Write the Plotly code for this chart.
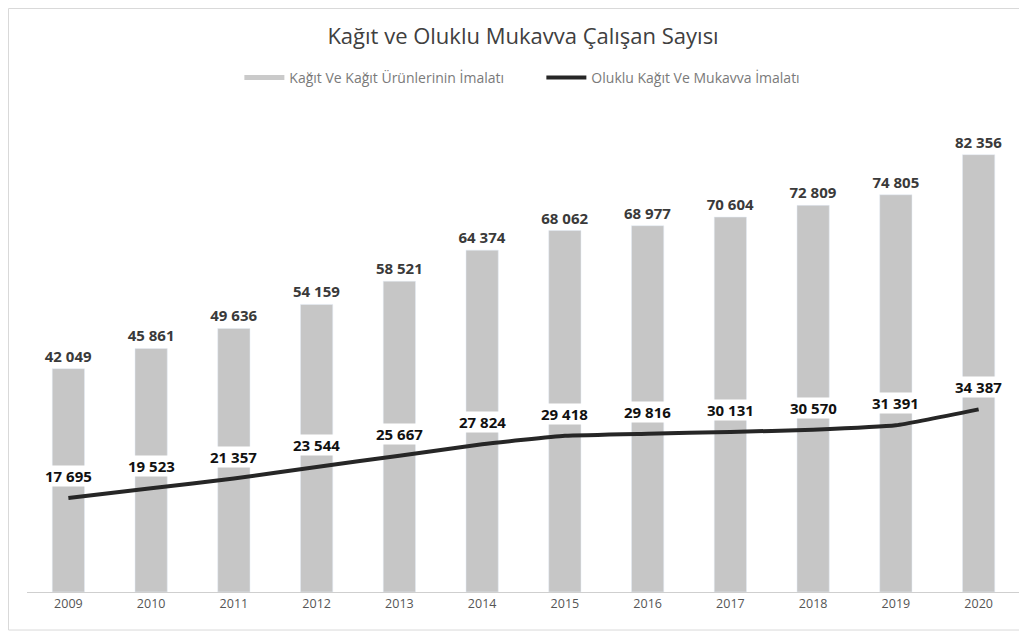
import plotly.graph_objects as go

years = ["2009", "2010", "2011", "2012", "2013", "2014", "2015", "2016", "2017", "2018", "2019", "2020"]
kagit_urunleri = [42049, 45861, 49636, 54159, 58521, 64374, 68062, 68977, 70604, 72809, 74805, 82356]
oluklu_mukavva = [17695, 19523, 21357, 23544, 25667, 27824, 29418, 29816, 30131, 30570, 31391, 34387]

def fmt(v):
    return f"{v:,}".replace(",", " ")

FONT = "Open Sans, Lato, DejaVu Sans, sans-serif"
BAR_NAME = "Kağıt Ve Kağıt Ürünlerinin İmalatı"
LINE_NAME = "Oluklu Kağıt Ve Mukavva İmalatı"

fig = go.Figure()
fig.add_trace(go.Bar(
    x=years, y=kagit_urunleri,
    name=BAR_NAME, showlegend=False,
    marker=dict(color="#c6c6c6"),
    text=[fmt(v) for v in kagit_urunleri],
    textposition="outside",
    constraintext="none",
    textfont=dict(size=15, color="#3a3a3a", family=FONT, weight="bold"),
    cliponaxis=False,
    width=0.39,
))
fig.add_trace(go.Scatter(
    x=years, y=oluklu_mukavva,
    name=LINE_NAME, showlegend=False,
    mode="lines",
    line=dict(color="#262626", width=4, shape="spline", smoothing=0.4),
    cliponaxis=False,
))
# line value labels (category index positions on the category axis)
for i, v in enumerate(oluklu_mukavva):
    fig.add_annotation(x=i, y=v, xref="x", yref="y", text=fmt(v), showarrow=False,
                       yshift=22, yanchor="middle", bgcolor="white", borderpad=0,
                       font=dict(size=15, color="#111111", family=FONT, weight="bold"))

# legend entries (swatch styles)
fig.add_trace(go.Scatter(x=[None], y=[None], mode="lines", name=BAR_NAME,
                         line=dict(color="#cacaca", width=5)))
fig.add_trace(go.Scatter(x=[None], y=[None], mode="lines", name=LINE_NAME,
                         line=dict(color="#262626", width=4)))

fig.update_layout(
    width=1027, height=633,
    paper_bgcolor="white", plot_bgcolor="white",
    margin=dict(l=19, r=15, t=122, b=49, autoexpand=False),
    font=dict(family=FONT, color="#555555"),
    title=dict(text="Kağıt ve Oluklu Mukavva Çalışan Sayısı", x=0.5015, xanchor="center",
               y=0.955, yanchor="middle",
               font=dict(size=22, color="#404040", family=FONT)),
    legend=dict(orientation="h", x=0.518, xanchor="center", y=1.1126, yanchor="middle",
                font=dict(size=14, color="#7a7a7a", family=FONT),
                traceorder="normal", itemwidth=40, entrywidth=247),
    showlegend=True,
    xaxis=dict(type="category", range=[-0.5, 11.5], showgrid=False, showline=True,
               linecolor="#cfcfcf", linewidth=1, ticks="",
               tickfont=dict(size=12.5, color="#555555", family=FONT)),
    yaxis=dict(range=[0, 87000], visible=False, showgrid=False),
    bargap=0.5,
)

fig.add_shape(type="rect", xref="paper", yref="paper", x0=-0.0186, x1=1.03, y0=-0.0823, y1=1.263,
              line=dict(color="#d9d9d9", width=1), fillcolor="rgba(0,0,0,0)")

fig.write_html("out.html")
